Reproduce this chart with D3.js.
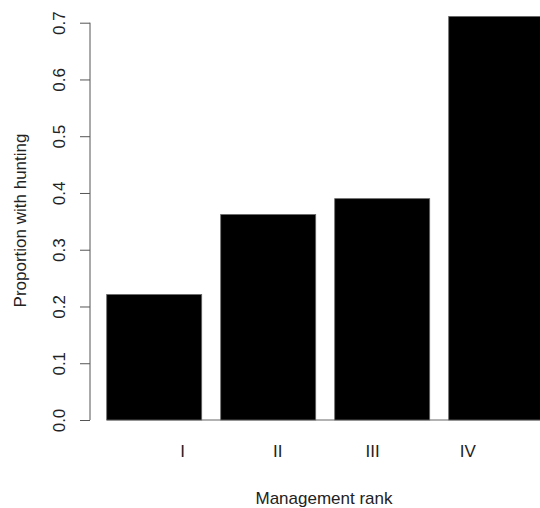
<!DOCTYPE html>
<html>
<head>
<meta charset="utf-8">
<script src="https://cdn.jsdelivr.net/npm/d3@7"></script>
<style>
  body { margin: 0; background: #fff; }
  svg { display: block; font-family: "Liberation Sans", Arial, sans-serif; }
</style>
</head>
<body>
<div id="chart"></div>
<script>
// data
const ranks = ["I", "II", "III", "IV"]
const proportions = [0.221, 0.362, 0.390, 0.711]
const yTicks = [0, 0.1, 0.2, 0.3, 0.4, 0.5, 0.6, 0.7]

const width = 540, height = 508
const fontSize = "17px"

let svg = d3.select("#chart")
    .append("svg")
    .attr("width", width)
    .attr("height", height)

// R barplot style units: bar i spans [0.2 + 1.2i, 1.2 + 1.2i], labels sit at 1..4
const x = d3.scaleLinear()
    .domain([0, 4.8])
    .range([87.7, 87.7 + 4.8 * 95])

const y = d3.scaleLinear()
    .domain([0, 0.7])
    .range([420, 22.7])

const bars = proportions.map((v, i) => ({ rank: ranks[i], value: v, left: 0.2 + 1.2 * i }))

// baseline under the bars
svg.append("line")
    .attr("x1", x(0.2))
    .attr("x2", x(4.8))
    .attr("y1", y(0))
    .attr("y2", y(0))
    .attr("stroke", "#666")
    .attr("stroke-width", 1)

svg.append("g")
    .selectAll("rect")
    .data(bars)
    .enter()
    .append("rect")
      .attr("x", d => x(d.left))
      .attr("y", d => y(d.value))
      .attr("width", d => x(d.left + 1) - x(d.left))
      .attr("height", d => y(0) - y(d.value))
      .attr("fill", "#000")
      .attr("stroke", "#666")
      .attr("stroke-width", 0.8)

// y axis
const yAxis = svg.append("g")
    .attr("transform", "translate(90,0)")
    .call(d3.axisLeft(y).tickValues(yTicks).tickSize(10).tickFormat(d => d.toFixed(1)))

yAxis.select(".domain").attr("stroke", "#555").attr("d", `M0,${y(0)}V${y(0.7)}`)
yAxis.selectAll(".tick line").attr("stroke", "#555")
yAxis.selectAll(".tick text")
    .attr("transform", "rotate(-90)")
    .attr("x", 0)
    .attr("y", -25)
    .attr("dy", 0)
    .attr("text-anchor", "middle")
    .attr("fill", "#222")
    .style("font-size", fontSize)
    .style("font-family", "Liberation Sans, Arial, sans-serif")

// x labels (placed at 1..4, as in the original)
svg.append("g")
    .selectAll("text")
    .data(ranks)
    .enter()
    .append("text")
      .attr("x", (d, i) => x(i + 1))
      .attr("y", 457)
      .attr("text-anchor", "middle")
      .attr("fill", "#222")
      .style("font-size", fontSize)
      .text(d => d)

// titles
svg.append("text")
    .attr("x", 324)
    .attr("y", 504)
    .attr("text-anchor", "middle")
    .attr("fill", "#222")
    .style("font-size", fontSize)
    .text("Management rank")

svg.append("text")
    .attr("transform", "translate(25.5,220.5) rotate(-90)")
    .attr("text-anchor", "middle")
    .attr("fill", "#222")
    .style("font-size", fontSize)
    .text("Proportion with hunting")
</script>
</body>
</html>
